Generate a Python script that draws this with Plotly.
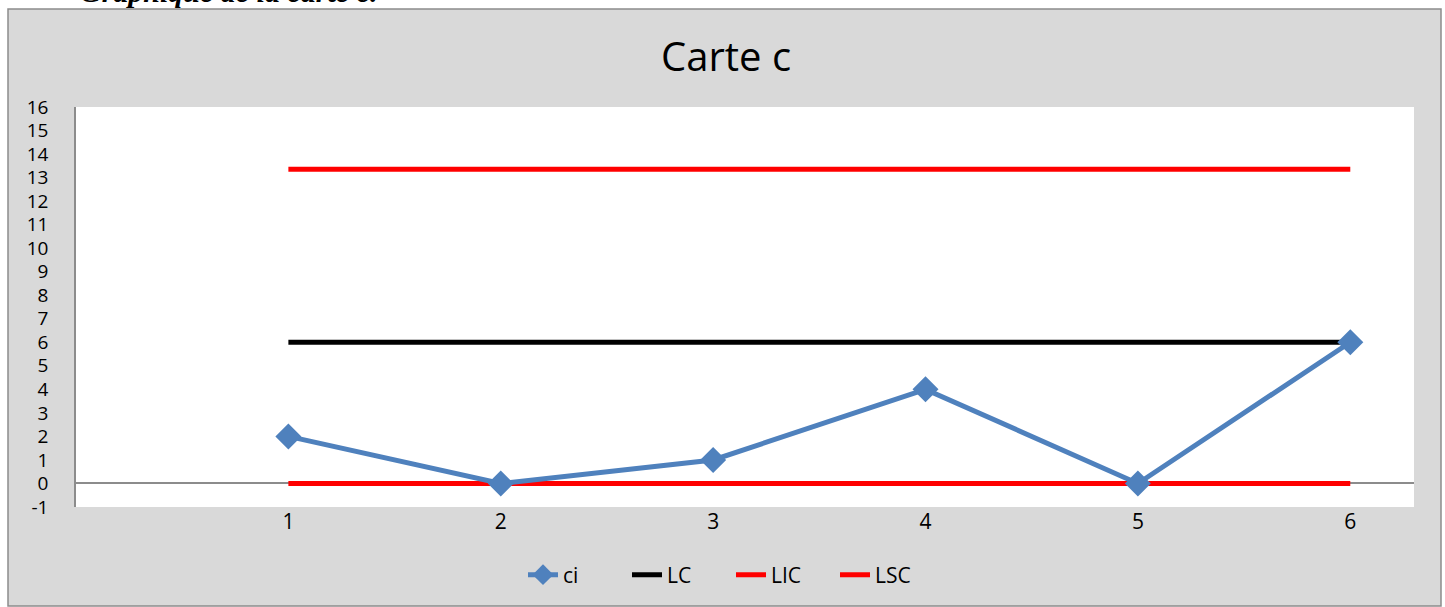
import plotly.graph_objects as go

samples = [1, 2, 3, 4, 5, 6]
ci = [2, 0, 1, 4, 0, 6]
LC = [6, 6, 6, 6, 6, 6]
LIC = [0, 0, 0, 0, 0, 0]
LSC = [13.35, 13.35, 13.35, 13.35, 13.35, 13.35]
y_ticks = list(range(-1, 17))
y_tick_labels = [str(v) for v in y_ticks]

W, H = 1445, 607
def px(x): return x / W
def py(y): return 1 - y / H

fig = go.Figure()
fig.add_trace(go.Scatter(x=samples, y=LC, name="LC", mode="lines",
                         line=dict(color="black", width=5), legendrank=2))
fig.add_trace(go.Scatter(x=samples, y=LIC, name="LIC", mode="lines",
                         line=dict(color="#ff0000", width=5), legendrank=3))
fig.add_trace(go.Scatter(x=samples, y=LSC, name="LSC", mode="lines",
                         line=dict(color="#ff0000", width=5), legendrank=4))
fig.add_trace(go.Scatter(x=samples, y=ci, name="ci", mode="lines+markers",
                         line=dict(color="#4f81bd", width=5),
                         marker=dict(symbol="diamond", size=20, color="#4f81bd"),
                         legendrank=1))

font = "Open Sans, Noto Sans, sans-serif"

fig.update_layout(
    width=W, height=H,
    margin=dict(l=0, r=0, t=0, b=0, autoexpand=False),
    paper_bgcolor="white",
    plot_bgcolor="white",
    showlegend=True,
    legend=dict(orientation="h", x=px(731), xanchor="center", y=py(575), yanchor="middle",
                font=dict(family=font, size=21, color="black"),
                entrywidth=59, entrywidthmode="pixels",
                traceorder="normal", bgcolor="rgba(0,0,0,0)"),
    xaxis=dict(domain=[px(76), px(1414)], range=[0, 6.3], tickmode="array",
               tickvals=samples, ticktext=[str(s) for s in samples],
               showgrid=False, zeroline=False, showline=False, ticks="",
               tickfont=dict(family=font, size=21, color="black")),
    yaxis=dict(domain=[py(507), py(107)], range=[-1, 16], tickmode="array",
               tickvals=y_ticks, ticktext=y_tick_labels, ticklabelstandoff=22,
               showgrid=False, zeroline=True, zerolinecolor="#8c8c8c", zerolinewidth=1.5,
               showline=True, linecolor="#8c8c8c", linewidth=1.5, ticks="",
               tickfont=dict(family=font, size=19, color="black")),
    shapes=[
        dict(type="rect", xref="paper", yref="paper", x0=px(8), x1=px(1441),
             y0=py(606), y1=py(9), fillcolor="#d9d9d9",
             line=dict(color="#8c8c8c", width=1.5), layer="below"),
        dict(type="rect", xref="paper", yref="paper", x0=px(76), x1=px(1414),
             y0=py(507), y1=py(107), fillcolor="white",
             line=dict(width=0), layer="below"),
    ],
    annotations=[
        dict(text="Carte c", xref="paper", yref="paper", x=px(726), y=py(55),
             xanchor="center", yanchor="middle", showarrow=False,
             font=dict(family=font, size=40, color="black")),
        dict(text="<b><i>Graphique de la carte c.</i></b>", xref="paper", yref="paper",
             x=px(78), y=py(10), xanchor="left", yanchor="bottom", showarrow=False,
             font=dict(family="Liberation Serif, serif", size=30, color="black")),
    ],
)

fig.write_html("out.html", config={"displayModeBar": False},
               post_script="document.body.style.margin='0';document.body.style.overflow='hidden';")
